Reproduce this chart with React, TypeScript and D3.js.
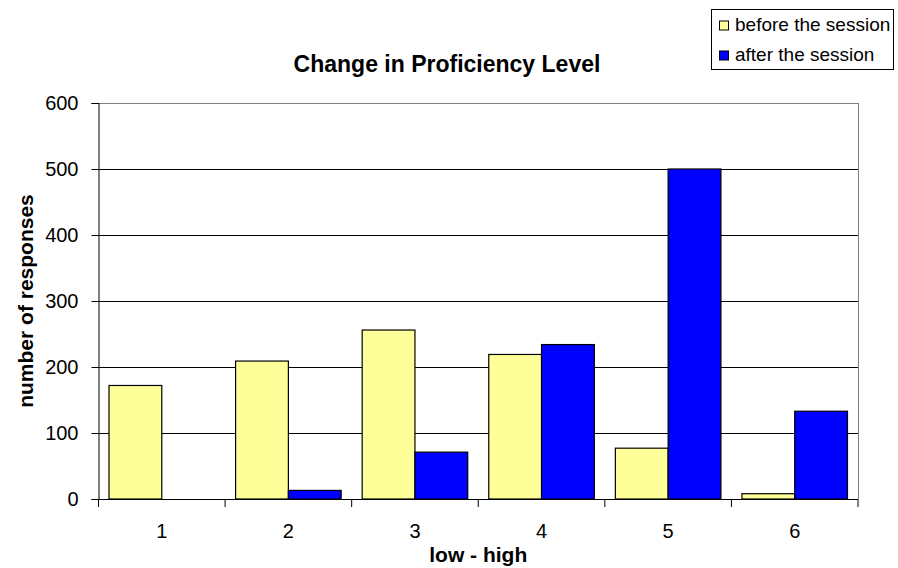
import React, { useRef, useEffect } from "react";
import * as d3 from "d3";

const categories = ["1", "2", "3", "4", "5", "6"];
const seriesNames = ["before the session", "after the session"];
const beforeValues = [172, 209, 256, 219, 77, 8];
const afterValues = [0, 13, 71, 234, 500, 133];
const yTicks = [0, 100, 200, 300, 400, 500, 600];
const colors = ["#ffff99", "#0000ff"];

const width = 898;
const height = 568;

const App: React.FC = () => {
  const svgRef = useRef<SVGSVGElement | null>(null);

  useEffect(() => {
    const svg = d3.select(svgRef.current);
    svg.selectAll("*").remove();

    const margin = { top: 103, right: 40, bottom: 69, left: 98.5 };
    const innerWidth = width - margin.left - margin.right;
    const innerHeight = height - margin.top - margin.bottom;
    const font = "Liberation Sans, Arial, sans-serif";

    const data = categories.map((c, i) => ({
      category: c,
      values: [beforeValues[i], afterValues[i]],
    }));

    const x0 = d3.scaleBand().domain(categories).range([0, innerWidth]).padding(0);
    const bw = x0.bandwidth();
    const x1 = d3
      .scaleBand()
      .domain(seriesNames)
      .range([bw * 0.083, bw * 0.917])
      .padding(0);
    const y = d3.scaleLinear().domain([0, 600]).range([innerHeight, 0]);

    const g = svg
      .append("g")
      .attr("transform", `translate(${margin.left},${margin.top})`);

    // Gridlines
    g.selectAll("line.grid")
      .data(yTicks.filter((t) => t > 0))
      .join("line")
      .attr("class", "grid")
      .attr("x1", 0)
      .attr("x2", innerWidth)
      .attr("y1", (d) => Math.round(y(d)) + 0.5)
      .attr("y2", (d) => Math.round(y(d)) + 0.5)
      .attr("stroke", (d) => (d === 600 ? "#808080" : "#000"))
      .attr("stroke-width", 1);

    // Right border
    g.append("line")
      .attr("x1", innerWidth + 0.5)
      .attr("x2", innerWidth + 0.5)
      .attr("y1", 0)
      .attr("y2", innerHeight)
      .attr("stroke", "#808080");

    // Bars
    const groups = g
      .selectAll("g.cat")
      .data(data)
      .join("g")
      .attr("class", "cat")
      .attr("transform", (d) => `translate(${x0(d.category)},0)`);

    groups
      .selectAll("rect")
      .data((d) => d.values.map((v, i) => ({ v, i })))
      .join("rect")
      .filter((d) => d.v > 0)
      .attr("x", (d) => x1(seriesNames[d.i])!)
      .attr("y", (d) => y(d.v))
      .attr("width", x1.bandwidth())
      .attr("height", (d) => innerHeight - y(d.v))
      .attr("fill", (d) => colors[d.i])
      .attr("stroke", "#000")
      .attr("stroke-width", 1.2);

    // Y axis
    const yAxis = d3
      .axisLeft(y)
      .tickValues(yTicks)
      .tickSize(7)
      .tickPadding(13)
      .tickFormat((d) => String(d));
    const yg = g.append("g").call(yAxis);
    yg.select(".domain").attr("stroke", "#000");
    yg.selectAll("text")
      .attr("font-family", font)
      .attr("font-size", "20px")
      .attr("fill", "#000");

    // X axis
    const xTickPositions = d3.range(categories.length + 1).map((i) => i * bw);
    const xg = g.append("g").attr("transform", `translate(0,${innerHeight})`);
    xg.append("line")
      .attr("x1", 0)
      .attr("x2", innerWidth)
      .attr("y1", 0.5)
      .attr("y2", 0.5)
      .attr("stroke", "#000");
    xg.selectAll("line.tick")
      .data(xTickPositions)
      .join("line")
      .attr("class", "tick")
      .attr("x1", (d) => d)
      .attr("x2", (d) => d)
      .attr("y1", 0)
      .attr("y2", 8)
      .attr("stroke", "#000");
    xg.selectAll("text")
      .data(categories)
      .join("text")
      .attr("x", (d) => x0(d)! + bw / 2)
      .attr("y", 39)
      .attr("text-anchor", "middle")
      .attr("font-family", font)
      .attr("font-size", "20px")
      .attr("fill", "#000")
      .text((d) => d);

    // Title
    svg
      .append("text")
      .attr("x", 447)
      .attr("y", 72)
      .attr("text-anchor", "middle")
      .attr("font-family", font)
      .attr("font-size", "23px")
      .attr("font-weight", "bold")
      .text("Change in Proficiency Level");

    // X label
    svg
      .append("text")
      .attr("x", margin.left + innerWidth / 2)
      .attr("y", 562)
      .attr("text-anchor", "middle")
      .attr("font-family", font)
      .attr("font-size", "21px")
      .attr("font-weight", "bold")
      .text("low - high");

    // Y label
    svg
      .append("text")
      .attr("transform", `translate(33, ${margin.top + innerHeight / 2}) rotate(-90)`)
      .attr("text-anchor", "middle")
      .attr("font-family", font)
      .attr("font-size", "21px")
      .attr("font-weight", "bold")
      .text("number of responses");

    // Legend
    const legend = svg.append("g").attr("transform", "translate(711.5,9.5)");
    legend
      .append("rect")
      .attr("width", 182)
      .attr("height", 60)
      .attr("fill", "#fff")
      .attr("stroke", "#000");
    seriesNames.forEach((name, i) => {
      const ly = 21.5 + i * 30;
      legend
        .append("rect")
        .attr("x", 8)
        .attr("y", ly - 10)
        .attr("width", 9)
        .attr("height", 9)
        .attr("fill", colors[i])
        .attr("stroke", "#000");
      legend
        .append("text")
        .attr("x", 23.5)
        .attr("y", ly)
        .attr("font-family", font)
        .attr("font-size", "19px")
        .text(name);
    });
  }, []);

  return (
    <svg
      ref={svgRef}
      width={width}
      height={height}
      style={{ position: "absolute", left: 0, top: 0, background: "#fff" }}
    />
  );
};

export default App;
